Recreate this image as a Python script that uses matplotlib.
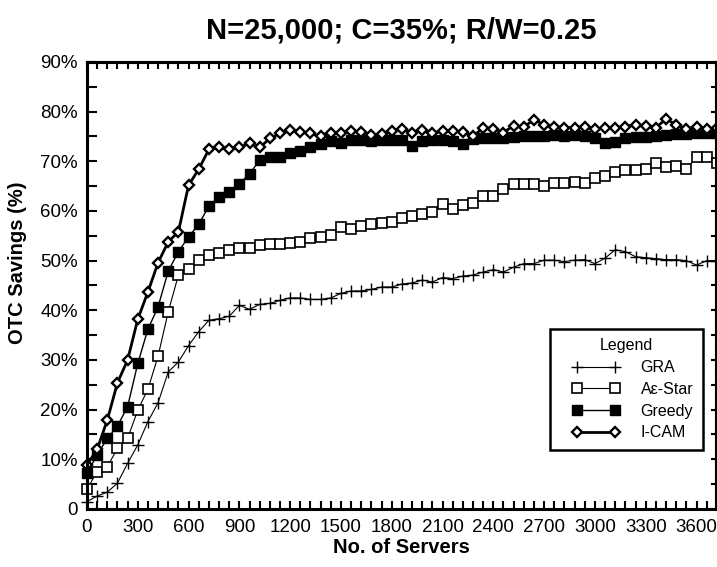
import numpy as np
import matplotlib.pyplot as plt
from matplotlib.lines import Line2D
from matplotlib.legend_handler import HandlerLine2D

# x grid: one point every 60 servers
servers = np.arange(0, 3721, 60)

gra = [1.5, 2.6, 3.4, 5.2, 9.2, 12.9, 17.6, 21.4, 27.6, 29.6,
       32.9, 35.7, 38.0, 38.3, 38.8, 41.0, 40.2, 41.2, 41.4, 42.0,
       42.5, 42.5, 42.2, 42.2, 42.5, 43.4, 43.9, 43.9, 44.2, 44.7,
       44.7, 45.3, 45.5, 46.1, 45.7, 46.6, 46.4, 46.9, 47.1, 47.7,
       48.2, 47.7, 48.7, 49.4, 49.4, 50.1, 50.1, 49.8, 50.1, 50.2,
       49.4, 50.5, 52.2, 51.8, 50.8, 50.6, 50.4, 50.2, 50.2, 50.0,
       49.1, 50.0, 50.0]

a_eps_star = [4.0, 7.5, 8.5, 12.2, 14.2, 19.9, 24.1, 30.8, 39.7, 47.1,
              48.4, 50.1, 51.1, 51.6, 52.2, 52.5, 52.6, 53.1, 53.3, 53.3,
              53.6, 53.8, 54.5, 54.8, 55.2, 56.8, 56.3, 56.9, 57.3, 57.6,
              57.8, 58.5, 59.0, 59.4, 59.8, 61.4, 60.3, 61.2, 61.7, 63.0,
              63.0, 64.5, 65.5, 65.5, 65.4, 65.0, 65.7, 65.7, 65.9, 65.7,
              66.7, 67.0, 67.9, 68.2, 68.2, 68.5, 69.7, 68.9, 69.0, 68.5,
              70.8, 70.8, 69.7]

greedy = [7.2, 10.9, 14.2, 16.7, 20.6, 29.3, 36.2, 40.7, 47.9, 51.8,
          54.8, 57.3, 61.0, 62.8, 63.8, 65.5, 67.5, 70.2, 70.9, 70.8,
          71.6, 72.1, 72.8, 73.4, 74.0, 73.6, 74.2, 74.2, 74.0, 74.2,
          74.3, 74.2, 73.0, 74.0, 74.2, 74.3, 74.1, 73.4, 74.5, 74.6,
          74.7, 74.6, 74.9, 75.0, 75.1, 75.0, 75.2, 75.1, 75.2, 75.0,
          74.6, 73.6, 73.8, 74.6, 74.8, 74.9, 75.0, 75.3, 75.5, 75.4,
          75.6, 75.7, 75.8]

icam = [8.9, 12.0, 17.9, 25.4, 30.0, 38.2, 43.7, 49.6, 53.8, 55.8,
        65.2, 68.4, 72.4, 72.8, 72.4, 72.8, 73.6, 72.8, 74.6, 75.6,
        76.4, 75.9, 75.6, 75.0, 75.6, 75.8, 76.1, 75.9, 75.2, 75.4,
        76.1, 76.6, 75.8, 76.4, 75.6, 76.1, 76.1, 75.9, 75.0, 76.8,
        76.6, 75.8, 77.2, 76.9, 78.4, 77.3, 77.0, 76.8, 76.8, 77.0,
        76.5, 76.8, 76.8, 77.0, 77.4, 77.1, 76.8, 78.5, 77.4, 76.5,
        77.0, 76.5, 76.8]

x_ticks = [0, 300, 600, 900, 1200, 1500, 1800, 2100, 2400, 2700, 3000, 3300, 3600]
y_ticks = [0, 10, 20, 30, 40, 50, 60, 70, 80, 90]
y_tick_labels = ["0", "10%", "20%", "30%", "40%", "50%", "60%", "70%", "80%", "90%"]

plt.rcParams.update({
    "font.family": ["Liberation Sans", "DejaVu Sans"],
    "font.size": 13.5,
    "axes.linewidth": 2.2,
})

fig = plt.figure(figsize=(7.17, 5.67), dpi=100)
ax = fig.add_axes([0.1213, 0.1023, 0.8773, 0.7884])

ax.plot(servers, gra, color="black", lw=0.8, marker="+", ms=8.5, mew=1.0,
        label="GRA", clip_on=False)
ax.plot(servers, a_eps_star, color="black", lw=0.8, marker="s", ms=7,
        mfc="white", mec="black", mew=1.2, label="A\u03b5-Star", clip_on=False)
ax.plot(servers, greedy, color="black", lw=1.0, marker="s", ms=7.5,
        mfc="black", mec="black", label="Greedy", clip_on=False)
ax.plot(servers, icam, color="black", lw=2.0, marker="D", ms=5.5,
        mfc="white", mec="black", mew=1.7, label="I-CAM", clip_on=False)

ax.set_xlim(0, 3715)
ax.set_ylim(0, 90)

ax.set_xticks(x_ticks)
ax.set_xticks(servers[servers <= 3715], minor=True)
ax.set_yticks(y_ticks)
ax.set_yticklabels(y_tick_labels)
ax.set_yticks(np.arange(5, 90, 10), minor=True)
ax.tick_params(axis="x", which="both", direction="in", length=6, width=1.5, pad=7)
ax.tick_params(axis="y", which="both", direction="in", length=7, width=1.5, pad=6.5)

# top / right ticks (shorter, no labels)
top = ax.secondary_xaxis("top")
top.set_xticks(servers[servers <= 3715])
top.set_xticklabels([])
top.tick_params(direction="in", length=5, width=1.5)
right = ax.secondary_yaxis("right")
right.set_yticks(np.arange(0, 91, 5))
right.set_yticklabels([])
right.tick_params(direction="in", length=3.6, width=1.5)

ax.set_xlabel("No. of Servers", fontsize=14.5, fontweight="bold", labelpad=2)
ax.set_ylabel("OTC Savings (%)", fontsize=14.5, fontweight="bold")
ax.yaxis.set_label_coords(-0.095, 0.55)
ax.set_title("N=25,000; C=35%; R/W=0.25", fontsize=21, fontweight="bold", pad=17)

leg = ax.legend(title="Legend", loc="upper right", bbox_to_anchor=(0.979, 0.403),
                borderaxespad=0, fontsize=11.5, title_fontsize=11.5,
                fancybox=False, edgecolor="black", framealpha=1,
                handlelength=4.6, handletextpad=0.5, labelspacing=0.42,
                borderpad=0.6, numpoints=2,
                handler_map={Line2D: HandlerLine2D(marker_pad=1.1)})
leg.get_frame().set_linewidth(1.8)

fig.savefig("out.png", dpi=100)
plt.close(fig)
